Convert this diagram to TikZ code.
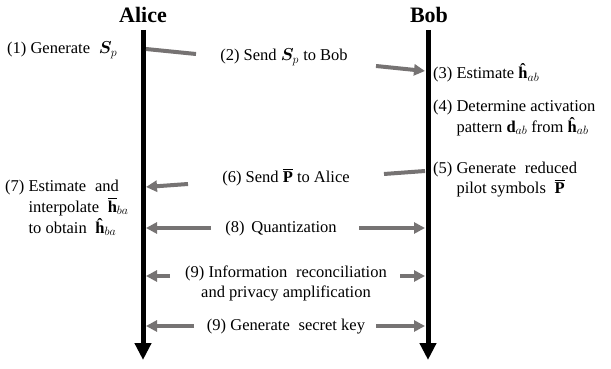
\documentclass[tikz,border=0pt]{standalone}
\usepackage{fontspec}
\usepackage{amsmath,bm}
\setmainfont{Liberation Serif}
\usetikzlibrary{arrows.meta}
\definecolor{arrgray}{HTML}{767373}
\newcommand{\hhat}[1]{\textbf{ĥ}$_{#1}$}
\tikzset{
  lbl/.style={inner sep=0pt, font=\fontsize{16.5}{20}\selectfont},
  who/.style={inner sep=0pt, font=\fontsize{22}{26}\selectfont\bfseries},
  life/.style={line width=5pt, -{Triangle[length=17pt,width=16pt]}},
  msg/.style={draw=arrgray, line width=4pt, -{Triangle[length=11pt,width=11pt]}, color=arrgray},
  seg/.style={draw=arrgray, line width=4pt}
}
\begin{document}
\begin{tikzpicture}[x=1pt,y=-1pt]
\useasboundingbox (0,0) rectangle (611,369);
% lifelines
\node[who] (alice) at (143,15) {Alice};
\node[who] (bob) at (429,15) {Bob};
\coordinate (aT) at (143,30);
\coordinate (aB) at (143,360);
\coordinate (bT) at (428,30);
\coordinate (bB) at (428,360);
\draw[life] (aT) -- (aB);
\draw[life] (bT) -- (bB);

% (1)
\node[lbl, anchor=west] (t1) at (7,50) {(1) Generate \;$\bm{S}_p$};
% (2)
\coordinate (m2a) at (146,49);
\coordinate (m2b) at (196,54);
\coordinate (m2c) at (376,66);
\coordinate (m2d) at (425,71);
\node[lbl] (t2) at (284,57) {(2) Send $\bm{S}_p$ to Bob};
\draw[seg] (m2a) -- (m2b);
\draw[msg] (m2c) -- (m2d);
% (3)
\node[lbl, anchor=west] (t3) at (433,73) {(3) Estimate \hhat{ab}};
% (4)
\node[lbl, anchor=north west] (t4) at (433,97) {\begin{tabular}{@{}l@{\ }l@{}}(4)&Determine activation\\ &pattern $\mathbf{d}_{ab}$ from \hhat{ab}\end{tabular}};
% (5)
\node[lbl, anchor=north west] (t5) at (433,159) {\begin{tabular}{@{}l@{\ }l@{}}(5)&Generate \;reduced\\ &pilot symbols \;$\overline{\mathbf{P}}$\end{tabular}};
% (6)
\coordinate (m6a) at (425,171);
\coordinate (m6b) at (384,174);
\coordinate (m6c) at (188,184);
\coordinate (m6d) at (146,187);
\node[lbl] (t6) at (286,177) {(6) Send $\overline{\mathbf{P}}$ to Alice};
\draw[seg] (m6a) -- (m6b);
\draw[msg] (m6c) -- (m6d);
% (7)
\node[lbl, anchor=north west] (t7) at (5,177) {\begin{tabular}{@{}l@{\ }l@{}}(7)&Estimate \;and\\ &interpolate \;$\overline{\mathbf{h}}_{ba}$\\ &to obtain \;\hhat{ba}\end{tabular}};
% (8)
\node[lbl] (t8) at (281,229) {(8) \,Quantization};
\coordinate (m8a) at (211,228);
\coordinate (m8b) at (146,228);
\coordinate (m8c) at (359,228);
\coordinate (m8d) at (425,228);
\draw[msg] (m8a) -- (m8b);
\draw[msg] (m8c) -- (m8d);
% (9) reconciliation
\node[lbl, align=center] (t9) at (286,283) {(9) Information \;reconciliation\\and privacy amplification};
\coordinate (m9a) at (170,276);
\coordinate (m9b) at (146,276);
\coordinate (m9c) at (400,276);
\coordinate (m9d) at (425,276);
\draw[msg] (m9a) -- (m9b);
\draw[msg] (m9c) -- (m9d);
% (9) secret key
\node[lbl] (t10) at (286,327) {(9) Generate \;secret key};
\coordinate (m10a) at (194,326);
\coordinate (m10b) at (146,326);
\coordinate (m10c) at (376,326);
\coordinate (m10d) at (425,326);
\draw[msg] (m10a) -- (m10b);
\draw[msg] (m10c) -- (m10d);
\end{tikzpicture}
\end{document}
